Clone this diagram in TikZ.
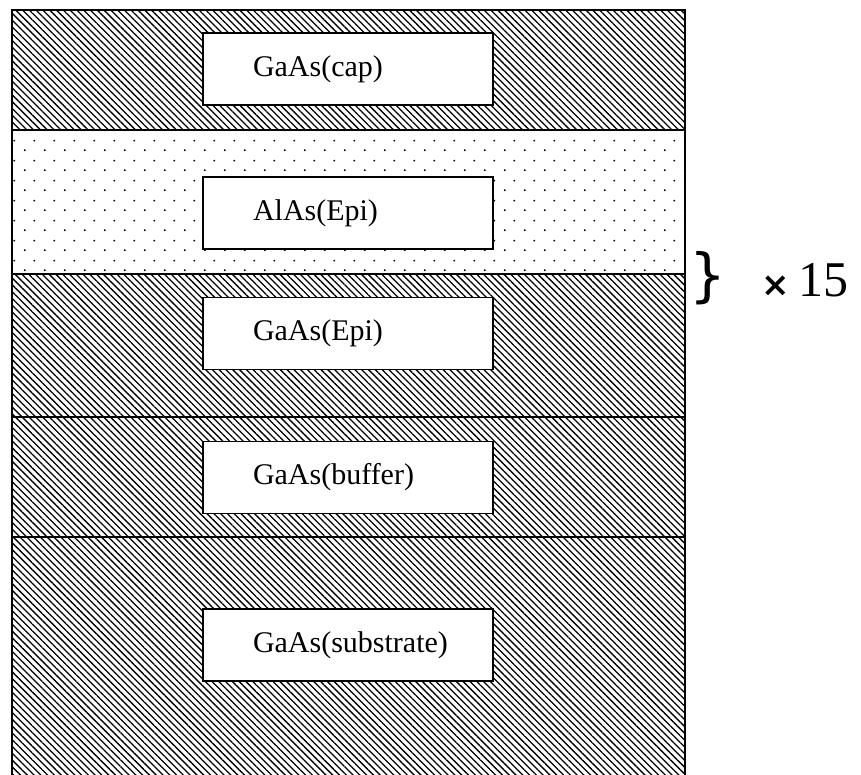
\documentclass[tikz,border=0pt]{standalone}
\usepackage{fontspec}
\setmainfont{Liberation Serif}
\newfontfamily\symfont{DejaVu Sans}
\usetikzlibrary{patterns,patterns.meta}

\pgfdeclarepatternformonly{epidots}{\pgfqpoint{0pt}{0pt}}{\pgfqpoint{20pt}{20pt}}{\pgfqpoint{20pt}{20pt}}{
  \pgfpathcircle{\pgfqpoint{5pt}{5pt}}{1.1pt}
  \pgfpathcircle{\pgfqpoint{15pt}{15pt}}{1.1pt}
  \pgfusepath{fill}}

\tikzset{
  hatch/.style={pattern={Lines[angle=-45,distance=4.8pt,line width=1.3pt]}},
  dotfill/.style={pattern=epidots},
  layerbox/.style={draw, fill=white, line width=1.2pt, minimum width=290pt,
    minimum height=72pt, inner xsep=50pt, inner ysep=0pt, text width=190pt,
    align=left, font=\fontsize{30}{35}\selectfont},
}

\begin{document}
\begin{tikzpicture}[x=1pt,y=-1pt]
\useasboundingbox (0,0) rectangle (861,775);
% layers, top to bottom
\fill[hatch] (12,10) rectangle (685,130);
\fill[dotfill] (12,130) rectangle (685,274);
\fill[hatch] (12,274) rectangle (685,417);
\fill[hatch] (12,417) rectangle (685,537);
\fill[hatch] (12,537) rectangle (685,780);
\draw[line width=1.4pt] (12,780) -- (12,10) -- (685,10) -- (685,780);
\foreach \y in {130,274,417,537}
  \draw[line width=1.2pt] (12,\y) -- (685,\y);

\node[layerbox] (cap) at (348,69) {GaAs(cap)};
\node[layerbox] (alas) at (348,213) {AlAs(Epi)};
\node[layerbox] (gaas) at (348,333.5) {GaAs(Epi)};
\node[layerbox] (buffer) at (348,477.5) {GaAs(buffer)};
\node[layerbox] (substrate) at (348,645) {GaAs(substrate)};

% period of the superlattice
\node[font=\symfont\fontsize{58}{62}\selectfont] (brace) at (708,278) {\}};
\node[anchor=west, font=\fontsize{50}{56}\selectfont] (repeat) at (758,280)
  {{\symfont\bfseries\fontsize{34}{40}\selectfont ×}\,15};
\end{tikzpicture}
\end{document}
